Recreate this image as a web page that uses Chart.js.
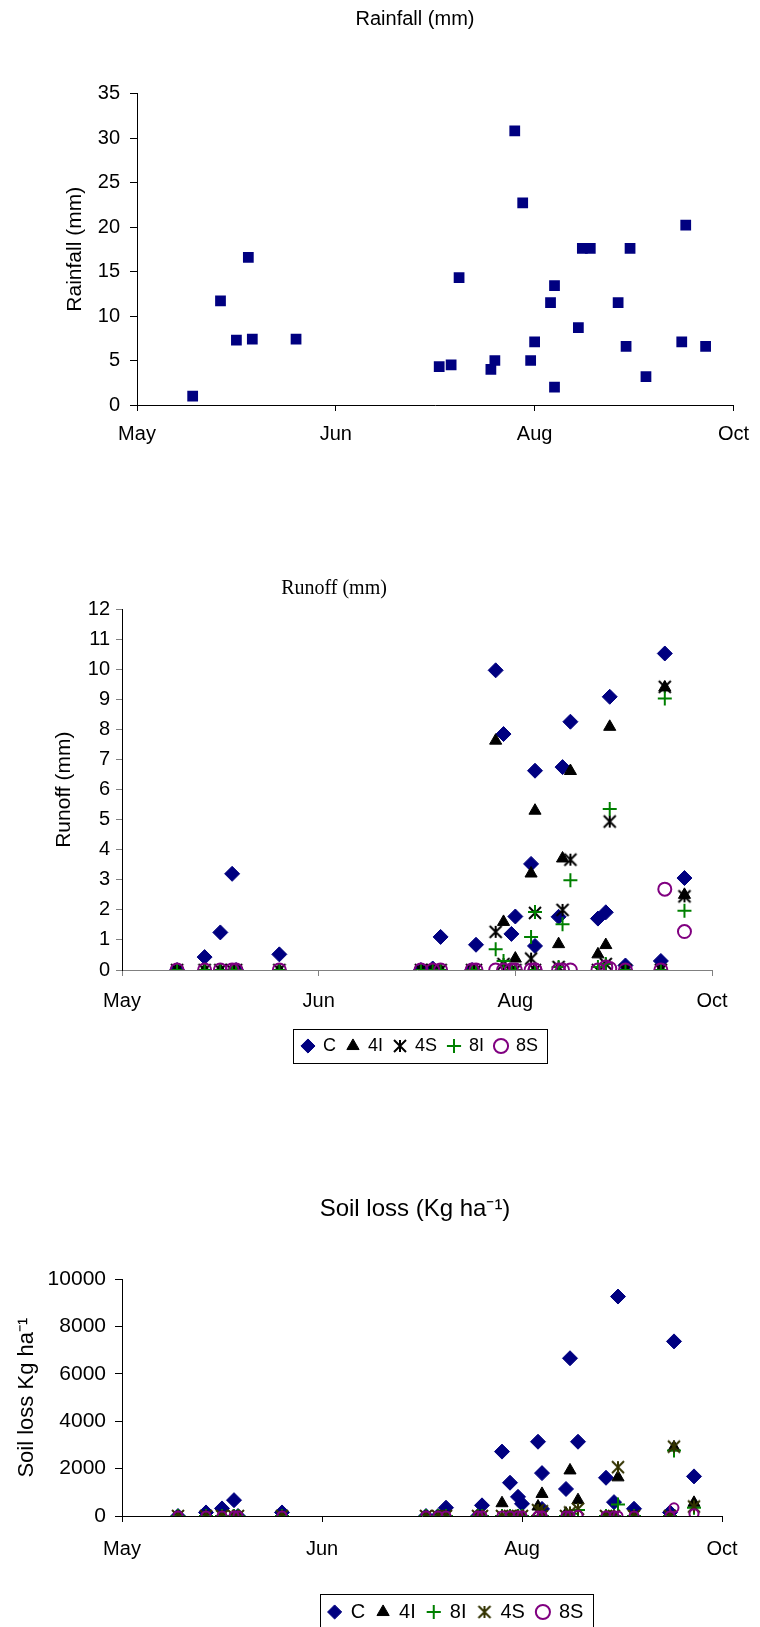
<!DOCTYPE html>
<html>
<head>
<meta charset="utf-8">
<script src="https://cdn.jsdelivr.net/npm/chart.js@4.4.1/dist/chart.umd.min.js"></script>
<style>
  html, body { margin: 0; padding: 0; background: #fff; overflow: hidden; }
  body { width: 760px; height: 1627px; position: relative; }
  canvas { position: absolute; left: 0; }
</style>
</head>
<body>
<canvas id="rain" width="760" height="460" style="top:0px"></canvas>
<canvas id="runoff" width="760" height="520" style="top:560px"></canvas>
<canvas id="soil" width="760" height="470" style="top:1170px"></canvas>
<script>
// x axis: days counted from the first tick, tick every 50 days
const monthTicks = ['May', 'Jun', 'Aug', 'Oct'];
const eventDays = [14, 21, 25, 28, 29, 40, 76, 79, 81, 89, 90, 95, 97, 99, 100,
                   104, 105, 105, 111, 112, 114, 121, 123, 124, 128, 137, 138, 143];

const rainfall = [1.0, 11.7, 7.3, 16.6, 7.4, 7.4, 4.3, 4.5, 14.3, 4.0, 5.0, 30.8, 22.7, 5.0, 7.1,
                  11.5, 13.4, 2.0, 8.7, 17.6, 17.6, 11.5, 6.6, 17.6, 3.2, 7.1, 20.2, 6.6];

// runoff (mm)
const runC  = [0, 0.43, 1.25, 3.2, 0, 0.52, 0, 0.05, 1.1, 0, 0.84, 9.97, 7.85, 1.2, 1.78,
               3.53, 6.63, 0.8, 1.77, 6.75, 8.26, 1.71, 1.92, 9.09, 0.15, 0.3, 10.53, 3.06];
const run4I = [0, 0, 0, 0, 0, 0, 0, 0, 0, 0, 0, 7.63, 1.6, 0, 0.38,
               3.21, 5.3, 0, 0.86, 3.71, 6.62, 0.52, 0.83, 8.09, 0, 0, 9.4, 2.5];
const run4S = [0, 0, 0, 0, 0, 0, 0, 0, 0, 0, 0, 1.27, 0.2, 0, 0,
               0.38, 1.9, 0, 0.1, 2.0, 3.67, 0, 0.2, 4.94, 0, 0, 9.42, 2.45];
const run8I = [0, 0, 0, 0, 0, 0, 0, 0, 0, 0, 0, 0.69, 0.3, 0, 0,
               1.1, 1.93, 0, 0.1, 1.52, 2.99, 0.1, 0.2, 5.36, 0, 0, 9.03, 1.97];
const run8S = [0, 0, 0, 0, 0, 0, 0, 0, 0, 0, 0, 0, 0, 0, 0,
               0, 0, 0, 0, 0, 0, 0, 0.1, 0.05, 0, 0, 2.69, 1.28];

// soil loss (kg/ha)
const soilC  = [0, 150, 320, 670, 0, 150, 0, 0, 350, 0, 450, 2720, 1406, 808, 515,
                3138, 1812, 300, 1142, 6665, 3138, 1615, 586, 9272, 305, 150, 7377, 1674];
const soil4I = [0, 0, 0, 0, 0, 0, 0, 0, 0, 0, 0, 540, 0, 0, 0,
                400, 933, 0, 100, 1925, 669, 0, 0, 1632, 0, 0, 2900, 556];
const soil8I = [0, 0, 0, 0, 0, 0, 0, 0, 0, 0, 0, 0, 0, 0, 0,
                0, 0, 0, 0, 100, 250, 0, 0, 486, 0, 0, 2762, 350];
const soil4S = [0, 0, 0, 0, 0, 0, 0, 0, 0, 0, 0, 0, 0, 0, 0,
                250, 200, 0, 0, 150, 300, 0, 0, 2063, 0, 0, 2929, 400];
const soil8S = [0, 0, 0, 0, 0, 0, 0, 0, 0, 0, 0, 0, 0, 0, 0,
                0, 0, 0, 0, 0, 30, 0, 0, 0, 0, 0, 347, 96];

const SANS = '"Liberation Sans", Arial, sans-serif';
const SERIF = '"Liberation Serif", "Times New Roman", serif';
Chart.defaults.font.family = SANS;
Chart.defaults.color = '#000';

// X marker with a vertical bar, like the spreadsheet "star"
function starMarker(color, size) {
    const c = document.createElement('canvas');
    c.width = size; c.height = size;
    const g = c.getContext('2d');
    g.strokeStyle = color;
    g.lineWidth = 2;
    const a = 2, b = size - 2;
    g.beginPath();
    g.moveTo(a, a); g.lineTo(b, b);
    g.moveTo(b, a); g.lineTo(a, b);
    g.moveTo(size / 2, a); g.lineTo(size / 2, b);
    g.stroke();
    return c;
}

const toPoints = vals => eventDays.map((d, i) => ({ x: d, y: vals[i] }));

const styles = {
    C:  { pointStyle: 'rectRot', radius: 7.5, bg: '#000080', border: '#000080', bw: 1 },
    I4: { pointStyle: 'triangle', radius: 7, bg: '#000000', border: '#000000', bw: 1 },
    I8: { pointStyle: 'cross', radius: 7, bg: '#008000', border: '#008000', bw: 2 },
    S8: { pointStyle: 'circle', radius: 6.5, bg: 'rgba(0,0,0,0)', border: '#800080', bw: 2 }
};

function series(label, vals, st, idx, total) {
    return {
        label, data: toPoints(vals),
        pointStyle: st.pointStyle, pointRadius: st.radius,
        backgroundColor: st.bg, borderColor: st.border, pointBorderWidth: st.bw, borderWidth: st.bw,
        order: total - idx
    };
}

// put title and legend at fixed centres
const centreAt = {
    id: 'centreAt',
    afterLayout(chart, args, opts) {
        const t = chart.titleBlock;
        if (t && opts.title != null) {
            t.left = opts.title - 250;
            t.right = opts.title + 250;
        }
        const lg = chart.legend;
        if (lg && opts.legend != null) {
            const w = lg.right - lg.left;
            lg.left = opts.legend - w / 2;
            lg.right = opts.legend + w / 2;
        }
    }
};

// frame round the legend items
const legendFrame = {
    id: 'legendFrame',
    afterDraw(chart) {
        const lg = chart.legend;
        if (!lg || !lg.options.display || !lg.legendHitBoxes.length) return;
        const hb = lg.legendHitBoxes;
        const l = Math.min(...hb.map(h => h.left)) - 9;
        const r = Math.max(...hb.map(h => h.left + h.width)) + 9;
        const t = hb[0].top - 8;
        const b = hb[0].top + hb[0].height + 8;
        const ctx = chart.ctx;
        ctx.save();
        ctx.strokeStyle = '#000';
        ctx.lineWidth = 1;
        ctx.strokeRect(Math.round(l) + 0.5, Math.round(t) + 0.5, Math.round(r - l), Math.round(b - t));
        ctx.restore();
    }
};

function xAxis(o) {
    return {
        type: 'linear', min: 0, max: 150,
        border: { color: o.line, width: 1 },
        grid: { drawOnChartArea: false, drawTicks: true, tickLength: 6, color: o.line },
        ticks: { stepSize: 50, font: { size: 20 }, color: '#000', padding: o.pad, maxRotation: 0,
                 callback: (v, i) => monthTicks[i] },
        afterFit: s => { s.height = o.height; }
    };
}

function yAxis(o) {
    return {
        min: 0, max: o.max,
        border: { color: '#000', width: 1 },
        grid: { drawOnChartArea: false, drawTicks: true, tickLength: o.tl, color: o.tickColor || '#000' },
        ticks: { stepSize: o.step, font: { size: o.tickSize || 20 }, color: '#000', padding: o.pad,
                 callback: v => String(v) },
        title: { display: true, text: o.title, color: '#000',
                 font: { size: o.titleSize, family: SANS }, padding: { top: o.titlePad, bottom: 0 } },
        afterFit: s => { s.width = o.width; }
    };
}

// Rainfall
new Chart(document.getElementById('rain'), {
    type: 'scatter',
    data: {
        datasets: [{
            label: 'Rainfall', data: toPoints(rainfall),
            pointStyle: 'rect', pointRadius: 7.6,
            backgroundColor: '#000080', borderColor: '#000080', borderWidth: 0
        }]
    },
    options: {
        responsive: false, animation: false, devicePixelRatio: 1,
        layout: { padding: { left: 0, right: 23, top: 0, bottom: 0 } },
        scales: {
            x: xAxis({ line: '#000', pad: 11, height: 55 }),
            y: yAxis({ width: 137, max: 35, step: 5, tl: 7, pad: 10, title: 'Rainfall (mm)', titleSize: 21, titlePad: 63 })
        },
        plugins: {
            legend: { display: false }, tooltip: { enabled: false },
            title: { display: true, text: 'Rainfall (mm)', color: '#000',
                     font: { size: 20, weight: 'normal', family: SANS },
                     padding: { top: 7, bottom: 62.5 } },
            centreAt: { title: 415 }
        }
    },
    plugins: [centreAt]
});

// Runoff
const runStar = starMarker('#000000', 16);
const runSets = [
    series('C', runC, styles.C, 0, 5),
    series('4I', run4I, styles.I4, 1, 5),
    Object.assign(series('4S', run4S, styles.C, 2, 5), { pointStyle: runStar, backgroundColor: '#000', borderColor: '#000' }),
    series('8I', run8I, styles.I8, 3, 5),
    series('8S', run8S, styles.S8, 4, 5)
];

new Chart(document.getElementById('runoff'), {
    type: 'scatter',
    data: { datasets: runSets },
    options: {
        responsive: false, animation: false, devicePixelRatio: 1,
        layout: { padding: { left: 0, right: 48, top: 0, bottom: 15 } },
        scales: {
            x: xAxis({ line: '#808080', pad: 13, height: 56 }),
            y: yAxis({ width: 122, max: 12, step: 1, tl: 6, pad: 6, tickColor: '#808080', title: 'Runoff (mm)', titleSize: 21, titlePad: 52 })
        },
        plugins: {
            tooltip: { enabled: false },
            legend: {
                position: 'bottom',
                labels: { usePointStyle: true, boxWidth: 12, boxHeight: 10, padding: 11,
                          font: { size: 18 }, color: '#000',
                          sort: (a, b) => a.datasetIndex - b.datasetIndex }
            },
            title: { display: true, text: 'Runoff (mm)', color: '#000', font: { size: 20, family: SERIF, weight: 'normal' },
                     padding: { top: 16.6, bottom: 8.7 } },
            centreAt: { title: 334, legend: 420 }
        }
    },
    plugins: [centreAt, legendFrame]
});

// Soil loss
const soilStar = starMarker('#333300', 16);
const soilSets = [
    series('C', soilC, styles.C, 0, 5),
    series('4I', soil4I, styles.I4, 1, 5),
    series('8I', soil8I, styles.I8, 2, 5),
    Object.assign(series('4S', soil4S, styles.C, 3, 5), { pointStyle: soilStar, backgroundColor: '#333300', borderColor: '#333300' }),
    Object.assign(series('8S', soil8S, styles.S8, 4, 5), { pointRadius: 4.5 })
];

new Chart(document.getElementById('soil'), {
    type: 'scatter',
    data: { datasets: soilSets },
    options: {
        responsive: false, animation: false, devicePixelRatio: 1,
        layout: { padding: { left: 0, right: 38, top: 0, bottom: 8 } },
        scales: {
            x: xAxis({ line: '#000', pad: 15, height: 74 }),
            y: yAxis({ width: 122, max: 10000, step: 2000, tl: 7, pad: 9, tickSize: 21, title: 'Soil loss Kg ha\u207B\u00B9', titleSize: 22, titlePad: 14 })
        },
        plugins: {
            tooltip: { enabled: false },
            legend: {
                position: 'bottom',
                labels: { usePointStyle: true, boxWidth: 12, boxHeight: 10, padding: 12,
                          font: { size: 20 }, color: '#000',
                          sort: (a, b) => a.datasetIndex - b.datasetIndex }
            },
            title: { display: true, text: 'Soil loss (Kg ha\u207B\u00B9)', color: '#000',
                     font: { size: 24, weight: 'normal', family: SANS },
                     padding: { top: 25.2, bottom: 55.3 } },
            centreAt: { title: 415, legend: 456 }
        }
    },
    plugins: [centreAt, legendFrame]
});
</script>
</body>
</html>
